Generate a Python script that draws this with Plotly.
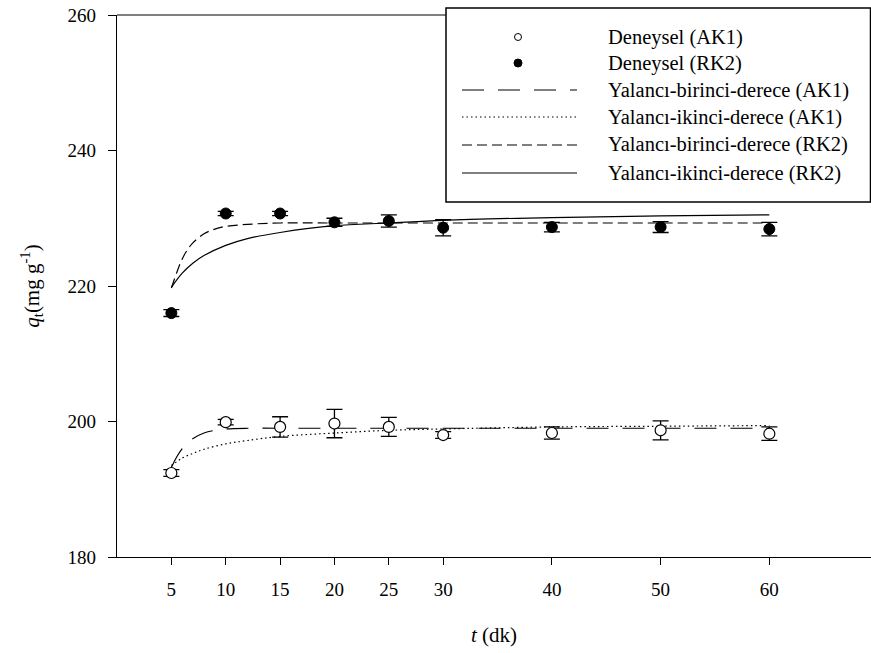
import plotly.graph_objects as go

# ---------------- data ----------------
t_exp = [5, 10, 15, 20, 25, 30, 40, 50, 60]
q_ak1 = [192.4, 199.9, 199.2, 199.7, 199.2, 198.0, 198.3, 198.7, 198.2]
e_ak1 = [0.5, 0.4, 1.5, 2.1, 1.4, 0.5, 0.9, 1.4, 1.0]
q_rk2 = [216.0, 230.7, 230.7, 229.4, 229.6, 228.6, 228.7, 228.7, 228.4]
e_rk2 = [0.5, 0.3, 0.3, 0.6, 0.9, 1.2, 0.7, 0.8, 1.0]

t_pfo_ak1 = [5, 5.5, 6, 6.5, 7, 8, 9, 10, 12, 15, 20, 30, 40, 50, 60]
q_pfo_ak1 = [193.2, 194.8, 196.0, 196.9, 197.5, 198.3, 198.7, 198.9, 199.0, 199.0, 199.0, 199.0, 199.0, 199.0, 199.0]

t_pso_ak1 = [5, 6, 7, 8, 10, 12, 15, 20, 25, 30, 40, 50, 60]
q_pso_ak1 = [193.5, 194.6, 195.3, 195.9, 196.7, 197.2, 197.8, 198.3, 198.7, 198.9, 199.2, 199.3, 199.4]

t_pfo_rk2 = [5, 5.5, 6, 6.5, 7, 8, 9, 10, 12, 15, 20, 30, 40, 50, 60]
q_pfo_rk2 = [219.7, 222.0, 224.0, 225.4, 226.4, 227.7, 228.4, 228.8, 229.1, 229.3, 229.3, 229.3, 229.3, 229.3, 229.3]

t_pso_rk2 = [5, 6, 7, 8, 10, 12, 15, 20, 25, 30, 40, 50, 60]
q_pso_rk2 = [219.8, 221.9, 223.4, 224.5, 226.0, 227.0, 227.9, 228.9, 229.3, 229.7, 230.1, 230.35, 230.5]

x_ticks = [5, 10, 15, 20, 25, 30, 40, 50, 60]
y_ticks = [180, 200, 220, 240, 260]

legend_labels = ["Deneysel (AK1)", "Deneysel (RK2)",
                 "Yalancı-birinci-derece (AK1)", "Yalancı-ikinci-derece (AK1)",
                 "Yalancı-birinci-derece (RK2)", "Yalancı-ikinci-derece (RK2)"]

FONT = "Liberation Serif"
W, H = 871, 653
ML, MR, MT, MB = 117, 0, 15, 96
PW, PH = W - ML - MR, H - MT - MB

LONG = "22px,14px"
SHORT = "10px,5px"
DOT = "1.5px,3px"

fig = go.Figure()

# model curves
fig.add_trace(go.Scatter(x=t_pfo_ak1, y=q_pfo_ak1, mode="lines", line=dict(color="black", width=1.2, dash=LONG, shape="spline"), showlegend=False))
fig.add_trace(go.Scatter(x=t_pso_ak1, y=q_pso_ak1, mode="lines", line=dict(color="black", width=1.2, dash=DOT, shape="spline"), showlegend=False))
fig.add_trace(go.Scatter(x=t_pfo_rk2, y=q_pfo_rk2, mode="lines", line=dict(color="black", width=1.2, dash=SHORT, shape="spline"), showlegend=False))
fig.add_trace(go.Scatter(x=t_pso_rk2, y=q_pso_rk2, mode="lines", line=dict(color="black", width=1.2, shape="spline"), showlegend=False))

# experimental points
fig.add_trace(go.Scatter(x=t_exp, y=q_ak1, mode="markers",
                         marker=dict(symbol="circle", size=11, color="white", line=dict(color="black", width=1.2)),
                         error_y=dict(type="data", array=e_ak1, color="black", thickness=1.3, width=8),
                         showlegend=False))
fig.add_trace(go.Scatter(x=t_exp, y=q_rk2, mode="markers",
                         marker=dict(symbol="circle", size=11, color="black", line=dict(color="black", width=1)),
                         error_y=dict(type="data", array=e_rk2, color="black", thickness=1.3, width=8),
                         showlegend=False))

# ---------------- manual legend (paper coords) ----------------
def px2x(px):
    return (px - ML) / PW

def py2y(py):
    return (H - MB - py) / PH

shapes = []
annotations = []
# top frame line
shapes.append(dict(type="line", xref="paper", yref="paper", x0=0, x1=1, y0=1, y1=1,
                   line=dict(color="black", width=1.2), layer="below"))
# legend box
shapes.append(dict(type="rect", xref="paper", yref="paper", x0=px2x(446), x1=px2x(870.5),
                   y0=py2y(202), y1=py2y(8), line=dict(color="black", width=1.5), fillcolor="white", layer="above"))

row_y = [37, 63, 90, 117, 145, 173]
mx = 518
# markers
shapes.append(dict(type="circle", xref="paper", yref="paper", xsizemode="pixel", ysizemode="pixel",
                   xanchor=px2x(mx), yanchor=py2y(row_y[0]), x0=-3.5, x1=3.5, y0=-3.5, y1=3.5,
                   line=dict(color="black", width=1), fillcolor="white", layer="above"))
shapes.append(dict(type="circle", xref="paper", yref="paper", xsizemode="pixel", ysizemode="pixel",
                   xanchor=px2x(mx), yanchor=py2y(row_y[1]), x0=-4, x1=4, y0=-4, y1=4,
                   line=dict(color="black", width=1), fillcolor="black", layer="above"))
dashes = [LONG, DOT, SHORT, "solid"]
for i, d in enumerate(dashes):
    yy = py2y(row_y[2 + i])
    shapes.append(dict(type="line", xref="paper", yref="paper", x0=px2x(462), x1=px2x(577), y0=yy, y1=yy,
                       line=dict(color="black", width=1.2, dash=d), layer="above"))
for i, lab in enumerate(legend_labels):
    annotations.append(dict(text=lab, xref="paper", yref="paper", x=px2x(606), y=py2y(row_y[i]),
                            xanchor="left", yanchor="middle", showarrow=False,
                            font=dict(family=FONT, size=20.5, color="black")))

fig.update_layout(
    width=W, height=H,
    margin=dict(l=ML, r=MR, t=MT, b=MB, pad=0),
    paper_bgcolor="white", plot_bgcolor="white",
    showlegend=False,
    font=dict(family=FONT, size=19, color="black"),
    shapes=shapes, annotations=annotations,
    xaxis=dict(range=[0, 69.35], tickvals=x_ticks, ticktext=[str(v) for v in x_ticks],
               showline=True, linecolor="black", linewidth=1.2, ticks="outside", ticklen=7,
               tickcolor="black", tickwidth=1.2, showgrid=False, zeroline=False,
               tickfont=dict(family=FONT, size=19), ticklabelstandoff=8,
               title=dict(text="<i>t</i> (dk)", font=dict(family=FONT, size=21), standoff=28)),
    yaxis=dict(range=[180, 260], tickvals=y_ticks, showline=True, linecolor="black", linewidth=1.2,
               ticks="outside", ticklen=8, tickcolor="black", tickwidth=1.2, showgrid=False, zeroline=False,
               tickfont=dict(family=FONT, size=19), ticklabelstandoff=8,
               title=dict(text="<i>q</i><sub>t</sub>(mg g<sup>-1</sup>)", font=dict(family=FONT, size=21), standoff=22)),
)

fig.write_html("out.html")
